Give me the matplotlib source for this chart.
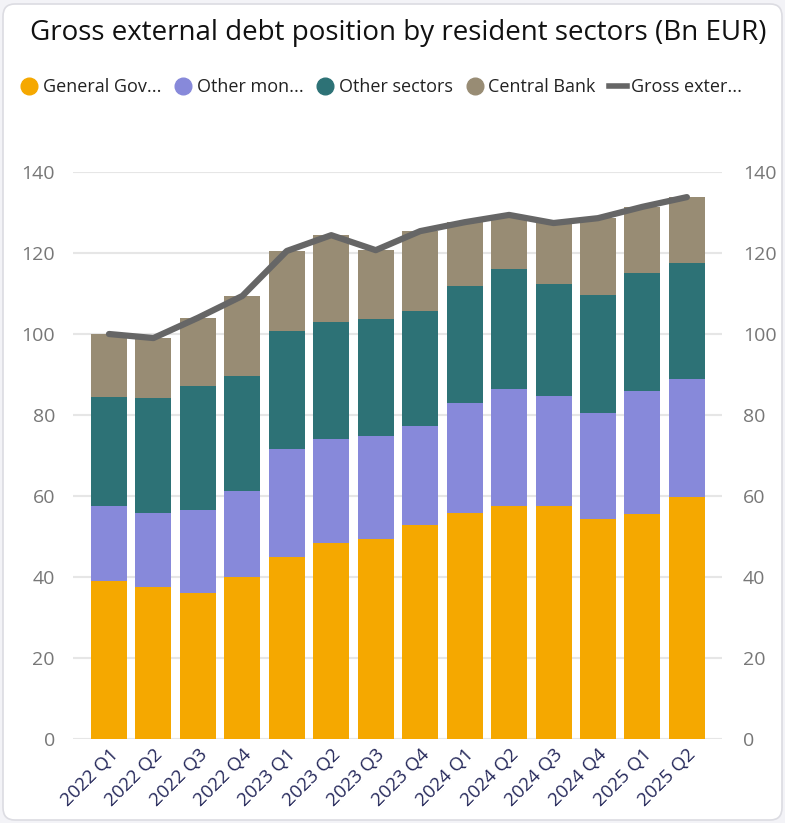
import matplotlib
matplotlib.use("Agg")
import matplotlib.pyplot as plt
from matplotlib.patches import FancyBboxPatch
from matplotlib.lines import Line2D
import numpy as np

plt.rcParams['font.family'] = ['Open Sans', 'DejaVu Sans']

quarters = ["2022 Q1", "2022 Q2", "2022 Q3", "2022 Q4",
            "2023 Q1", "2023 Q2", "2023 Q3", "2023 Q4",
            "2024 Q1", "2024 Q2", "2024 Q3", "2024 Q4",
            "2025 Q1", "2025 Q2"]

general_gov = [39.0, 37.5, 36.0, 40.0, 45.0, 48.4, 49.4, 52.8, 55.8, 57.5, 57.5, 54.3, 55.6, 59.8]
other_mfi = [18.5, 18.3, 20.5, 21.2, 26.6, 25.7, 25.4, 24.5, 27.2, 28.9, 27.2, 26.2, 30.4, 29.1]
other_sectors = [26.9, 28.4, 30.7, 28.4, 29.1, 28.9, 28.9, 28.4, 28.9, 29.6, 27.6, 29.1, 29.1, 28.6]
central_bank = [15.6, 14.8, 16.8, 19.8, 19.8, 21.4, 17.0, 19.7, 15.7, 13.4, 15.1, 19.0, 16.3, 16.3]
gross_total = [100.0, 99.0, 104.0, 109.4, 120.5, 124.4, 120.7, 125.4, 127.6, 129.4, 127.4, 128.6, 131.4, 133.8]

legend_labels = ["General Gov...", "Other mon...", "Other sectors", "Central Bank", "Gross exter..."]
title = "Gross external debt position by resident sectors (Bn EUR)"

c_gov = "#F5A800"
c_mfi = "#8789DA"
c_oth = "#2D7276"
c_cb = "#988C74"
c_line = "#666666"

W, H = 785, 823
fig = plt.figure(figsize=(W / 100, H / 100), dpi=100)
fig.patch.set_facecolor("#F3F3F7")

# white rounded card behind everything
card = FancyBboxPatch((3 / W, 3 / H), (W - 6) / W, (H - 7) / H,
                      boxstyle="round,pad=0,rounding_size=0.015",
                      transform=fig.transFigure, facecolor="white",
                      edgecolor="#DCDCE2", linewidth=1.2, zorder=-10)
fig.add_artist(card)

ax_left, ax_right = 73, 722
ax_top, ax_bot = 172, 739
ax = fig.add_axes([ax_left / W, 1 - ax_bot / H, (ax_right - ax_left) / W, (ax_bot - ax_top) / H])
ax.set_facecolor("none")
ax.set_zorder(1)

x = np.arange(len(quarters))
width = 0.81
b1 = np.array(general_gov)
b2 = b1 + np.array(other_mfi)
b3 = b2 + np.array(other_sectors)
ax.bar(x, general_gov, width, color=c_gov, zorder=2)
ax.bar(x, other_mfi, width, bottom=b1, color=c_mfi, zorder=2)
ax.bar(x, other_sectors, width, bottom=b2, color=c_oth, zorder=2)
ax.bar(x, central_bank, width, bottom=b3, color=c_cb, zorder=2)
ax.plot(x, gross_total, color=c_line, linewidth=4.5, solid_capstyle="round",
        solid_joinstyle="round", zorder=3)

ax.set_xlim(-0.81, 13.79)
ax.set_ylim(0, 140)
ax.set_yticks(np.arange(0, 141, 20))
ax.grid(axis="y", color="#E6E6E6", linewidth=1.5, zorder=0)
ax.axhline(0, color="#DDDDDD", linewidth=1.8, zorder=1)
for s in ax.spines.values():
    s.set_visible(False)
ax.tick_params(axis="both", length=0)
ax.tick_params(axis="y", labelsize=14, labelcolor="#777777", pad=13)
ax.set_xticks(x)
ax.set_xticklabels(quarters, rotation=45, ha="right", rotation_mode="anchor",
                   fontsize=13.5, color="#25285A")
ax.tick_params(axis="x", pad=5)

ax2 = ax.twinx()
ax2.set_ylim(0, 140)
ax2.set_yticks(np.arange(0, 141, 20))
for s in ax2.spines.values():
    s.set_visible(False)
ax2.tick_params(axis="y", length=0, labelsize=14, labelcolor="#777777", pad=15)

fig.text(398 / W, 1 - 33 / H, title, ha="center", va="center", fontsize=20, color="#111111")

handles = [
    Line2D([], [], marker="o", linestyle="none", markersize=12, color=c_gov),
    Line2D([], [], marker="o", linestyle="none", markersize=12, color=c_mfi),
    Line2D([], [], marker="o", linestyle="none", markersize=12, color=c_oth),
    Line2D([], [], marker="o", linestyle="none", markersize=12, color=c_cb),
    Line2D([], [], color=c_line, linewidth=4),
]
leg = fig.legend(handles, legend_labels, loc="center left", bbox_to_anchor=(20 / W, 1 - 87 / H),
                 ncol=5, frameon=False, fontsize=13, handlelength=1.0, handletextpad=0.25,
                 columnspacing=0.72, borderaxespad=0, borderpad=0)
for t in leg.get_texts():
    t.set_color("#222222")

fig.savefig("out.png", dpi=100, facecolor=fig.get_facecolor())
